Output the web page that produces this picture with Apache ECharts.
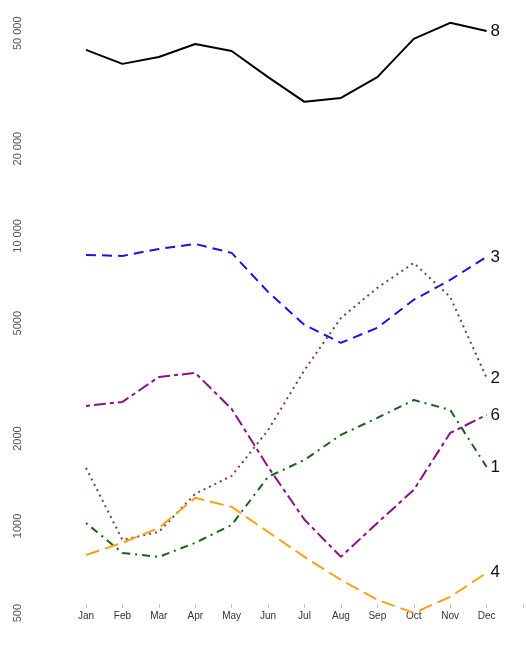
<!DOCTYPE html>
<html>
<head>
<meta charset="utf-8">
<title>Monthly series</title>
<script src="https://cdn.jsdelivr.net/npm/echarts@6/dist/echarts.min.js"></script>
<style>
  html, body { margin: 0; padding: 0; background: #fff; }
  #chart { width: 526px; height: 654px; }
</style>
</head>
<body>
<div id="chart"></div>
<script>
// Month categories; the trailing blank slot keeps a final tick past December.
const months = ['Jan', 'Feb', 'Mar', 'Apr', 'May', 'Jun', 'Jul', 'Aug', 'Sep', 'Oct', 'Nov', 'Dec', ''];

// Values plotted on a log scale, one array per series.
const s8 = [43800, 39200, 41400, 45900, 43400, 35300, 29000, 29900, 35300, 47800, 54300, 50900];
const s3 = [8600, 8530, 9020, 9380, 8740, 6410, 4930, 4280, 4820, 6020, 7050, 8470];
const s2 = [1585, 895, 953, 1290, 1487, 2140, 3450, 5210, 6620, 8070, 6160, 3240];
const s6 = [2593, 2677, 3262, 3370, 2531, 1597, 1050, 782, 1024, 1331, 2092, 2414];
const s1 = [1024, 807, 782, 874, 1008, 1476, 1689, 2060, 2357, 2718, 2512, 1597];
const s4 = [794, 874, 984, 1249, 1163, 953, 782, 651, 556, 501, 569, 689];

// Y tick values.
const yTicks = [500, 1000, 2000, 5000, 10000, 20000, 50000];

function fmtTick(v) {
  if (v >= 10000) {
    const s = String(Math.round(v));
    return s.slice(0, s.length - 3) + ' ' + s.slice(-3);
  }
  return String(v);
}

function makeSeries(name, data, color, dash) {
  return {
    name: name,
    type: 'line',
    data: data,
    showSymbol: false,
    symbol: 'none',
    smooth: false,
    clip: false,
    lineStyle: { color: color, width: 2, type: dash, cap: 'butt' },
    endLabel: {
      show: true,
      formatter: '{a}',
      distance: 4,
      fontFamily: 'Liberation Sans, Arial, sans-serif',
      fontSize: 17,
      color: '#111'
    },
    emphasis: { disabled: true },
    animation: false
  };
}

const chart = echarts.init(document.getElementById('chart'), null, { renderer: 'canvas' });

chart.setOption({
  backgroundColor: '#fff',
  animation: false,
  grid: { left: 86, right: 3, top: 10, bottom: 24, containLabel: false },
  xAxis: {
    type: 'category',
    data: months,
    boundaryGap: false,
    offset: -26,
    axisLine: { show: false },
    axisTick: { show: true, length: 4, alignWithLabel: true, lineStyle: { color: '#c8c8c8', width: 1 } },
    axisLabel: {
      interval: 0,
      margin: 7,
      fontFamily: 'Liberation Sans, Arial, sans-serif',
      fontSize: 10,
      color: '#333'
    },
    splitLine: { show: false }
  },
  yAxis: {
    type: 'log',
    logBase: 10,
    min: 437.5,
    max: 60130,
    axisLine: { show: false },
    axisTick: { show: false },
    splitLine: { show: false },
    axisLabel: {
      customValues: yTicks,
      rotate: 90,
      margin: 63,
      fontFamily: 'Liberation Sans, Arial, sans-serif',
      fontSize: 11,
      color: '#555',
      formatter: fmtTick
    }
  },
  series: [
    makeSeries('8', s8, '#000000', 'solid'),
    makeSeries('3', s3, '#1515e6', [10, 6]),
    makeSeries('2', s2, '#8b3a3a', [2, 4]),
    makeSeries('6', s6, '#8b108b', [4, 4, 12, 4]),
    makeSeries('1', s1, '#146414', [2, 5, 8, 5]),
    makeSeries('4', s4, '#ffa010', [14, 6])
  ]
});
</script>
</body>
</html>
